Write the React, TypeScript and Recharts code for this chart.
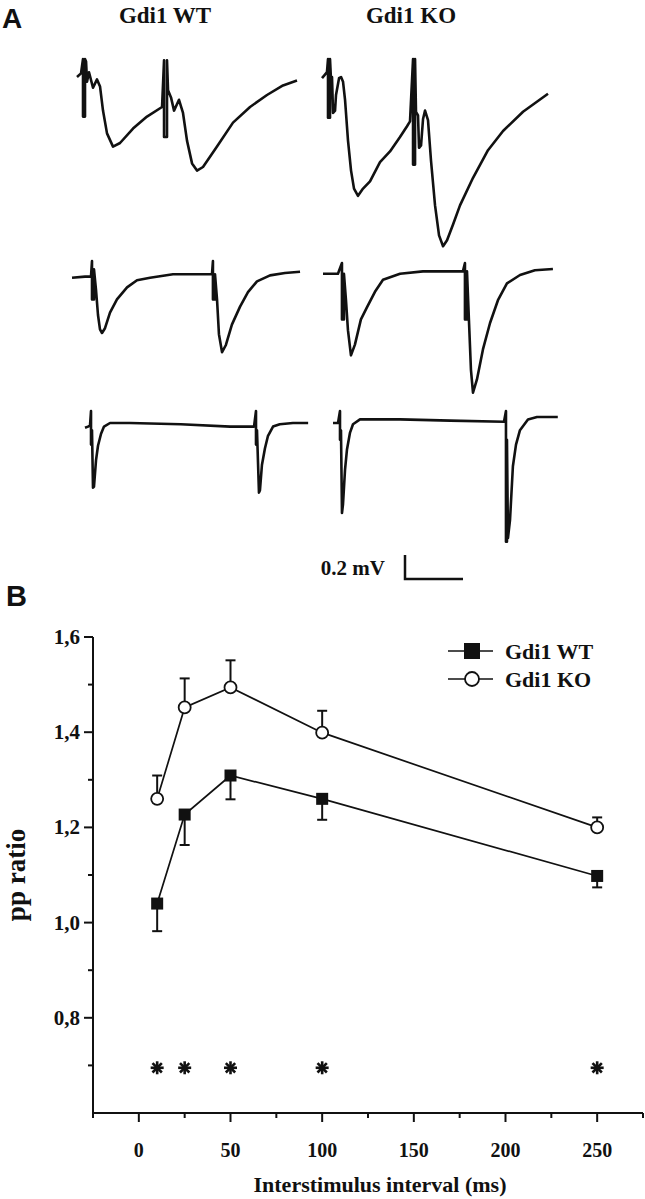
import React from "react";
import {
  ComposedChart,
  LineChart,
  Line,
  Scatter,
  XAxis,
  YAxis,
  ErrorBar,
  Legend,
} from "recharts";

if (typeof document !== "undefined") document.body.style.margin = "0";

// ---- panel B data ----
const intervals = [10, 25, 50, 100, 250];
const wtMean = [1.04, 1.227, 1.309, 1.26, 1.098];
const wtSem = [0.058, 0.064, 0.05, 0.044, 0.024];
const koMean = [1.26, 1.452, 1.494, 1.399, 1.2];
const koSem = [0.049, 0.061, 0.057, 0.046, 0.021];
const sigIntervals = [10, 25, 50, 100, 250];
const SIG_Y = 0.695;

const xTicks = [-25, 0, 25, 50, 75, 100, 125, 150, 175, 200, 225, 250, 275];
const yTicks = [0.6, 0.7, 0.8, 0.9, 1.0, 1.1, 1.2, 1.3, 1.4, 1.5, 1.6];

// ---- panel A traces: [time ms from 1st stimulus, mV] ----
const wtRow1 = [
  [-0.75, 0], [-0.25, 0.03], [0, 0.15], [0, -0.33], [0.25, -0.33], [0.25, 0.15],
  [0.38, 0.13], [0.5, -0.04], [0.75, 0.04], [1.25, -0.09], [1.75, -0.02], [2.13, -0.08],
  [2.5, -0.28], [3.0, -0.47], [3.75, -0.58], [4.63, -0.55], [6.25, -0.43], [8.0, -0.33],
  [9.88, -0.25], [10.13, 0.14], [10.13, -0.5], [10.5, -0.5], [10.5, 0.14], [10.63, -0.11],
  [11.0, -0.17], [11.38, -0.28], [12.0, -0.19], [12.5, -0.3], [13.0, -0.53], [13.63, -0.72],
  [14.25, -0.78], [15.0, -0.75], [16.75, -0.58], [18.75, -0.38], [20.88, -0.25],
  [23.0, -0.15], [25.0, -0.07], [26.75, -0.03],
];
const koRow1 = [
  [-0.75, 0], [-0.38, 0.03], [-0.13, 0.05], [0, 0.16], [0, -0.33], [0.25, -0.33],
  [0.25, 0.16], [0.38, -0.02], [0.5, 0.01], [0.63, -0.29], [0.88, -0.27], [1.0, -0.14],
  [1.38, 0.0], [1.63, 0.01], [1.88, -0.03], [2.13, -0.18], [2.5, -0.52], [2.88, -0.77],
  [3.25, -0.92], [3.75, -0.98], [4.38, -0.92], [5.25, -0.86], [6.5, -0.7], [7.75, -0.61],
  [9.0, -0.49], [9.88, -0.4], [10.25, -0.36], [10.63, 0.16], [10.63, -0.72], [10.88, -0.72],
  [10.88, 0.16], [11.0, -0.28], [11.25, -0.31], [11.38, -0.58], [11.63, -0.56],
  [11.88, -0.34], [12.13, -0.27], [12.5, -0.35], [12.88, -0.69], [13.38, -1.06],
  [13.88, -1.31], [14.38, -1.4], [14.88, -1.35], [15.63, -1.22], [16.5, -1.06],
  [18.13, -0.83], [20.0, -0.6], [21.88, -0.44], [24.38, -0.28], [27.5, -0.13],
];
const wtRow2 = [
  [-8.33, -0.01], [-2.9, 0], [-0.42, 0], [0, 0.13], [0, -0.19], [0.83, -0.19], [0.83, 0.06],
  [1.67, -0.11], [2.5, -0.32], [3.33, -0.44], [4.17, -0.47], [5.42, -0.43], [7.5, -0.3],
  [10.4, -0.19], [14.6, -0.09], [18.75, -0.03], [24.2, -0.01], [33.75, 0.02], [50.0, 0.02],
  [50.4, 0.13], [50.4, -0.19], [51.25, -0.19], [51.25, 0.02], [52.1, -0.19], [52.9, -0.48],
  [54.2, -0.63], [55.8, -0.57], [58.3, -0.4], [61.7, -0.25], [65, -0.13], [68.75, -0.04],
  [74.2, 0.01], [80.4, 0.03], [86.7, 0.04],
];
const koRow2 = [
  [-7.9, 0], [-1.67, 0], [0, 0.09], [0, -0.38], [0.83, -0.38], [0.83, 0], [1.67, -0.22],
  [2.5, -0.47], [3.75, -0.68], [5.4, -0.59], [7.9, -0.38], [10.4, -0.28], [13.75, -0.15],
  [17.1, -0.05], [24.2, 0], [33.75, 0.02], [50.4, 0.02], [51.25, 0.09], [51.25, -0.38],
  [52.1, -0.38], [52.1, 0.02], [52.9, -0.38], [53.75, -0.8], [54.6, -0.99], [56.25, -0.88],
  [58.75, -0.63], [61.7, -0.41], [65, -0.22], [68.75, -0.08], [74.2, -0.01], [80.4, 0.03],
  [87.9, 0.04],
];
const wtRow3 = [
  [-9.1, -0.04], [-4.5, -0.03], [-1.5, -0.02], [0, 0.1], [0, -0.18], [1.5, -0.06],
  [3.0, -0.54], [4.5, -0.53], [7.6, -0.31], [10.6, -0.19], [15.2, -0.09], [19.7, -0.03],
  [28.8, 0], [59, 0], [136, -0.01], [211, -0.03], [247, -0.03], [250, 0.1], [250, -0.18],
  [251.5, -0.06], [254.5, -0.58], [256, -0.56], [259, -0.35], [263.6, -0.21], [268, -0.11],
  [275.8, -0.03], [286, -0.01], [306, 0], [329, 0],
];
const koRow3 = [
  [-10.6, -0.02], [-3, -0.02], [0, 0.08], [0, -0.16], [1.5, -0.08], [3.0, -0.77],
  [4.5, -0.7], [7.6, -0.41], [10.6, -0.24], [15.2, -0.1], [19.7, -0.03], [30.3, 0.01],
  [91, 0.01], [167, 0], [248.5, -0.01], [251.5, 0.08], [251.5, -1.01], [253, -1.01],
  [253, -0.16], [254.5, -0.98], [257.6, -0.83], [262, -0.38], [266.7, -0.2], [272.7, -0.08],
  [284.8, 0.01], [298.5, 0.03], [330, 0.03],
];

const INK = "#111";
const SERIF = "'Liberation Serif', 'Times New Roman', serif";
const SANS = "'Liberation Sans', Arial, sans-serif";
const PX_PER_MV = 120;

function Trace({ points, x0, y0, pxPerMs }: { points: number[][]; x0: number; y0: number; pxPerMs: number }) {
  const data = points.map(([t, v]) => ({ t, v }));
  const pad = 3;
  const ts = points.map((p) => p[0]);
  const vs = points.map((p) => p[1]);
  const tMin = Math.min(...ts);
  const tMax = Math.max(...ts);
  const vMin = Math.min(...vs);
  const vMax = Math.max(...vs);
  const width = (tMax - tMin) * pxPerMs + pad * 2;
  const height = (vMax - vMin) * PX_PER_MV + pad * 2;
  return (
    <div style={{ position: "absolute", left: x0 + tMin * pxPerMs - pad, top: y0 - vMax * PX_PER_MV - pad }}>
      <LineChart width={width} height={height} data={data} margin={{ top: pad, right: pad, bottom: pad, left: pad }}>
        <XAxis type="number" dataKey="t" domain={[tMin, tMax]} hide />
        <YAxis type="number" domain={[vMin, vMax]} hide />
        <Line
          type="linear"
          dataKey="v"
          stroke={INK}
          strokeWidth={2.6}
          strokeLinejoin="round"
          dot={false}
          isAnimationActive={false}
        />
      </LineChart>
    </div>
  );
}

function XTick(props: any) {
  const { x, y, payload } = props;
  const v = payload.value;
  const major = v % 50 === 0;
  return (
    <g>
      <line x1={x} y1={y} x2={x} y2={y + (major ? 9 : 5)} stroke={INK} strokeWidth={2} />
      {major && v >= 0 && v <= 250 && (
        <text x={x} y={y + 44} textAnchor="middle" fontFamily={SERIF} fontWeight={700} fontSize={20} fill={INK}>
          {v}
        </text>
      )}
    </g>
  );
}

function YTick(props: any) {
  const { x, y, payload } = props;
  const v = payload.value;
  const k = Math.round(v * 10);
  const major = k % 2 === 0;
  if (k <= 6) return <g />;
  return (
    <g>
      <line x1={x - (major ? 9 : 5)} y1={y} x2={x} y2={y} stroke={INK} strokeWidth={2} />
      {major && (
        <text x={x - 13} y={y + 7} textAnchor="end" fontFamily={SERIF} fontWeight={700} fontSize={21} fill={INK}>
          {v.toFixed(1).replace(".", ",")}
        </text>
      )}
    </g>
  );
}

function WtDot(props: any) {
  const { cx, cy, index } = props;
  return <rect key={`wt-${index}`} x={cx - 6} y={cy - 6} width={12} height={12} fill={INK} />;
}

function Asterisk(props: any) {
  const { cx, cy } = props;
  const r = 6.5;
  const d = r * 0.72;
  return (
    <g stroke={INK} strokeWidth={2.6}>
      <line x1={cx} y1={cy - r} x2={cx} y2={cy + r} />
      <line x1={cx - r} y1={cy} x2={cx + r} y2={cy} />
      <line x1={cx - d} y1={cy - d} x2={cx + d} y2={cy + d} />
      <line x1={cx - d} y1={cy + d} x2={cx + d} y2={cy - d} />
    </g>
  );
}

function LegendBox() {
  return (
    <svg width={190} height={56}>
      <line x1={2} y1={11} x2={47} y2={11} stroke={INK} strokeWidth={1.7} />
      <rect x={18} y={3} width={16} height={16} fill={INK} />
      <text x={59} y={19} fontFamily={SERIF} fontWeight={700} fontSize={22} fill={INK}>
        Gdi1 WT
      </text>
      <line x1={2} y1={39} x2={47} y2={39} stroke={INK} strokeWidth={1.7} />
      <circle cx={26} cy={39} r={7} fill="#fff" stroke={INK} strokeWidth={1.8} />
      <text x={59} y={47} fontFamily={SERIF} fontWeight={700} fontSize={22} fill={INK}>
        Gdi1 KO
      </text>
    </svg>
  );
}

export default function App() {
  const rows = intervals.map((iv, i) => ({
    interval: iv,
    wt: wtMean[i],
    wtErr: [wtSem[i], 0],
    ko: koMean[i],
    koErr: [0, koSem[i]],
  }));
  const sigRows = sigIntervals.map((iv) => ({ interval: iv, sig: SIG_Y }));
  const axisStyle = { stroke: INK, strokeWidth: 2 };

  return (
    <div style={{ position: "relative", width: 645, height: 1199, background: "#fff", overflow: "hidden" }}>
      <Trace points={wtRow1} x0={83} y0={77} pxPerMs={8} />
      <Trace points={koRow1} x0={328} y0={78} pxPerMs={8} />
      <Trace points={wtRow2} x0={92} y0={277} pxPerMs={2.4} />
      <Trace points={koRow2} x0={342} y0={274} pxPerMs={2.4} />
      <Trace points={wtRow3} x0={91} y0={423} pxPerMs={0.66} />
      <Trace points={koRow3} x0={340} y0={421} pxPerMs={0.66} />

      <div style={{ position: "absolute", left: 0, top: 600 }}>
        <ComposedChart width={645} height={599} data={rows} margin={{ top: 37, right: 2, bottom: 0, left: 33 }}>
          <XAxis
            type="number"
            dataKey="interval"
            domain={[-25, 275]}
            ticks={xTicks}
            interval={0}
            tickSize={0}
            tickMargin={0}
            tickLine={false}
            axisLine={axisStyle}
            tick={<XTick />}
            height={86}
          />
          <YAxis
            type="number"
            domain={[0.6, 1.6]}
            ticks={yTicks}
            interval={0}
            tickSize={0}
            tickMargin={0}
            tickLine={false}
            axisLine={axisStyle}
            tick={<YTick />}
            width={60}
          />
          <Line type="linear" dataKey="ko" stroke={INK} strokeWidth={1.7} dot={{ r: 6, fill: "#fff", stroke: INK, strokeWidth: 1.8 }} isAnimationActive={false}>
            <ErrorBar dataKey="koErr" width={5} strokeWidth={2} stroke={INK} direction="y" />
          </Line>
          <Line type="linear" dataKey="wt" stroke={INK} strokeWidth={1.7} dot={WtDot} isAnimationActive={false}>
            <ErrorBar dataKey="wtErr" width={5} strokeWidth={2} stroke={INK} direction="y" />
          </Line>
          <Scatter data={sigRows} dataKey="sig" shape={Asterisk} isAnimationActive={false} />
          <Legend
            layout="vertical"
            align="center"
            verticalAlign="middle"
            wrapperStyle={{ left: 446, top: 40, width: 190, height: 56 }}
            content={LegendBox}
          />
        </ComposedChart>
      </div>

      <svg width={645} height={1199} style={{ position: "absolute", left: 0, top: 0, pointerEvents: "none" }}>
        <text x={2} y={28} fontFamily={SANS} fontWeight={700} fontSize={28} fill={INK}>A</text>
        <text x={6} y={606} fontFamily={SANS} fontWeight={700} fontSize={29} fill={INK}>B</text>
        <text x={165} y={23} textAnchor="middle" fontFamily={SERIF} fontWeight={700} fontSize={23} fill={INK}>Gdi1 WT</text>
        <text x={411} y={23} textAnchor="middle" fontFamily={SERIF} fontWeight={700} fontSize={23} fill={INK}>Gdi1 KO</text>
        <text x={385} y={575} textAnchor="end" fontFamily={SERIF} fontWeight={700} fontSize={21} fill={INK}>0.2 mV</text>
        <path d="M405 555 V579 H463" fill="none" stroke={INK} strokeWidth={2.5} />
        <text
          x={25}
          y={875}
          transform="rotate(-90 25 875)"
          textAnchor="middle"
          fontFamily={SERIF}
          fontWeight={700}
          fontSize={27}
          fill={INK}
        >
          pp ratio
        </text>
        <text x={380} y={1192} textAnchor="middle" fontFamily={SERIF} fontWeight={700} fontSize={22} fill={INK}>
          Interstimulus interval (ms)
        </text>
      </svg>
    </div>
  );
}
